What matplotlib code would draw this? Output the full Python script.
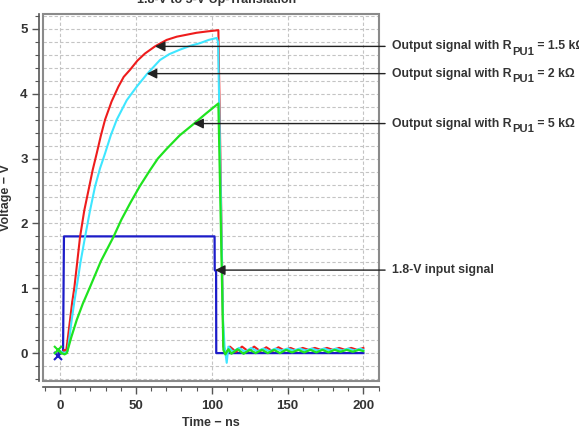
import matplotlib
matplotlib.use('Agg')
import matplotlib.pyplot as plt
from matplotlib.ticker import MultipleLocator
from matplotlib.patches import Rectangle

plt.rcParams['font.family'] = ['Liberation Sans', 'DejaVu Sans']

# time in ns, voltage in V
t_in = [-1, 2.0, 2.6, 101.9, 102.0, 102.9, 103.0, 200]
v_in = [0.0, 0.0, 1.80, 1.80, 1.28, 1.26, 0.0, 0.0]

t_r15 = [-1, 1, 3, 4, 5, 6.6, 8, 9.5, 11, 13.2, 16, 19.3, 21.5, 24.2, 27, 29.7,
         34, 38.5, 42, 46.2, 51, 56, 62.6, 70.3, 77, 83.5, 90, 96.7, 104.4,
         107.7, 110, 112, 116, 120, 124, 128, 132, 136, 140, 144, 148, 152, 156,
         160, 164, 168, 172, 176, 180, 184, 188, 192, 196, 200]
v_r15 = [0.05, 0.0, 0.05, 0.02, 0.20, 0.51, 0.78, 1.02, 1.33, 1.79, 2.20, 2.57,
         2.82, 3.08, 3.36, 3.60, 3.88, 4.11, 4.26, 4.37, 4.51, 4.62, 4.73, 4.83,
         4.88, 4.91, 4.94, 4.96, 4.98, 0.10, 0.0, 0.10, 0.02, 0.10, 0.03, 0.10,
         0.03, 0.09, 0.03, 0.09, 0.04, 0.08, 0.04, 0.08, 0.05, 0.08, 0.05, 0.08,
         0.05, 0.08, 0.05, 0.08, 0.05, 0.08]

t_r2 = [-1, 1, 3, 5, 6, 7.7, 9.3, 11, 13.5, 16.5, 19.8, 23.1, 26.4, 29.7, 33.5,
        37.4, 44, 50.6, 57.2, 65.9, 72, 79.1, 86, 92.3, 98, 103.3, 104.2, 107.5,
        108.5, 109.9, 111, 114, 118, 122, 126, 130, 134, 138, 142, 146, 150,
        154, 158, 162, 166, 170, 174, 178, 182, 186, 190, 194, 198, 200]
v_r2 = [0.05, 0.02, 0.0, 0.03, 0.20, 0.51, 0.77, 1.02, 1.40, 1.79, 2.20, 2.57,
        2.85, 3.08, 3.36, 3.60, 3.90, 4.11, 4.30, 4.52, 4.61, 4.68, 4.74, 4.78,
        4.83, 4.86, 4.80, 0.50, 0.10, -0.15, 0.10, 0.02, 0.08, 0.02, 0.08, 0.03,
        0.07, 0.03, 0.07, 0.04, 0.07, 0.04, 0.07, 0.04, 0.07, 0.04, 0.07, 0.04,
        0.07, 0.04, 0.07, 0.04, 0.07, 0.05]

t_r5 = [-1, 1, 3, 4.5, 7.5, 11, 15, 19.8, 27, 35.2, 40.5, 46.2, 52.5, 59.3,
        64.5, 70.3, 79, 87.9, 96, 104.4, 107.7, 109, 111, 113, 117, 121, 125,
        129, 133, 137, 141, 145, 149, 153, 157, 161, 165, 169, 173, 177, 181,
        185, 189, 193, 197, 200]
v_r5 = [0.05, 0.0, -0.02, 0.0, 0.25, 0.51, 0.76, 1.02, 1.42, 1.79, 2.06, 2.31,
        2.57, 2.82, 3.00, 3.15, 3.36, 3.53, 3.69, 3.85, 0.05, -0.02, 0.06, -0.01,
        0.06, -0.01, 0.05, 0.0, 0.05, 0.0, 0.05, 0.0, 0.05, 0.01, 0.05, 0.01,
        0.05, 0.01, 0.05, 0.01, 0.05, 0.02, 0.05, 0.02, 0.05, 0.03]

note_head = ['Output signal with R', 'Output signal with R',
             'Output signal with R', '1.8-V input signal']
note_tail = [' = 1.5 kΩ', ' = 2 kΩ', ' = 5 kΩ', '']
note_tip_x = [62.6, 57.2, 87.9, 102.2]
note_y = [4.73, 4.31, 3.54, 1.28]

fig = plt.figure(figsize=(5.79, 4.30), dpi=100)
ax = fig.add_axes([0.0743, 0.114, 0.5803, 0.8535])

ax.plot(t_in, v_in, color='#1c1cc8', lw=1.6, zorder=3)
ax.plot(t_r15, v_r15, color='#ee1c1c', lw=1.5, zorder=4)
ax.plot(t_r2, v_r2, color='#3ee6ff', lw=1.5, zorder=5)
ax.plot(t_r5, v_r5, color='#1fe31f', lw=1.6, zorder=6)
# start markers
ax.plot([t_in[0]], [v_in[0] - 0.05], 'x', color='#1c1cc8', ms=6, mew=1.5, zorder=4)
ax.plot([t_r5[0]], [v_r5[0]], 'x', color='#1fe31f', ms=6, mew=1.5, zorder=7)

ax.set_xlim(-11.2, 210.3)
ax.set_ylim(-0.43, 5.23)

ax.xaxis.set_major_locator(MultipleLocator(50))
ax.xaxis.set_minor_locator(MultipleLocator(10))
ax.yaxis.set_major_locator(MultipleLocator(1))
ax.yaxis.set_minor_locator(MultipleLocator(0.2))

ax.grid(True, which='major', color='#c4c4c4', ls=(0, (3, 2)), lw=0.8)
ax.grid(True, which='minor', axis='y', color='#c4c4c4', ls=(0, (3, 2)), lw=0.8)
ax.set_axisbelow(True)

for s in ['top', 'right']:
    ax.spines[s].set_visible(False)
ax.spines['bottom'].set_position(('outward', 4))
ax.spines['left'].set_position(('outward', 3))
for s in ['bottom', 'left']:
    ax.spines[s].set_color('#555555')
    ax.spines[s].set_linewidth(1.2)
ax.add_patch(Rectangle((0, 0), 1, 1, transform=ax.transAxes, fill=False,
                       edgecolor='#8a8a8a', lw=1.5, clip_on=False, zorder=8))

ax.tick_params(which='major', length=5, width=1, color='#555555', labelsize=9.5,
               labelcolor='#333333')
ax.tick_params(which='minor', length=3, width=0.8, color='#555555')
ax.tick_params(axis='y', pad=3)
ax.tick_params(axis='x', pad=5)
for lab in ax.get_xticklabels() + ax.get_yticklabels():
    lab.set_fontweight('bold')

ax.set_xlabel('Time − ns', fontsize=9, fontweight='bold', color='#333333', labelpad=3)
ax.set_ylabel('Voltage − V', fontsize=9, fontweight='bold', color='#333333', labelpad=6)

for head, tail, tx, ty in zip(note_head, note_tail, note_tip_x, note_y):
    ax.annotate('', xy=(tx, ty), xytext=(214.3, ty), annotation_clip=False,
                arrowprops=dict(arrowstyle='-|>', color='#222222', lw=1.0,
                                mutation_scale=15, shrinkA=0, shrinkB=0),
                zorder=9)
    t1 = ax.text(218.9, ty, head, fontsize=8.8, fontweight='bold', color='#333333',
                 va='center', ha='left', clip_on=False)
    if tail:
        # subscript drawn a bit lower, almost full size as in the original
        t2 = ax.annotate('PU1', xy=(1, 0), xycoords=t1, xytext=(0.3, -3),
                         textcoords='offset points', fontsize=8.1,
                         fontweight='bold', color='#333333', va='bottom',
                         ha='left', annotation_clip=False)
        ax.annotate(tail, xy=(1, 0), xycoords=t2, xytext=(0, 3),
                    textcoords='offset points', fontsize=8.8, fontweight='bold',
                    color='#333333', va='bottom', ha='left',
                    annotation_clip=False)

fig.text(217 / 579, 1 - 3 / 430, '1.8-V to 5-V Up-Translation', fontsize=9,
         fontweight='bold', color='#333333', ha='center', va='baseline')

fig.savefig('out.png', dpi=100)
